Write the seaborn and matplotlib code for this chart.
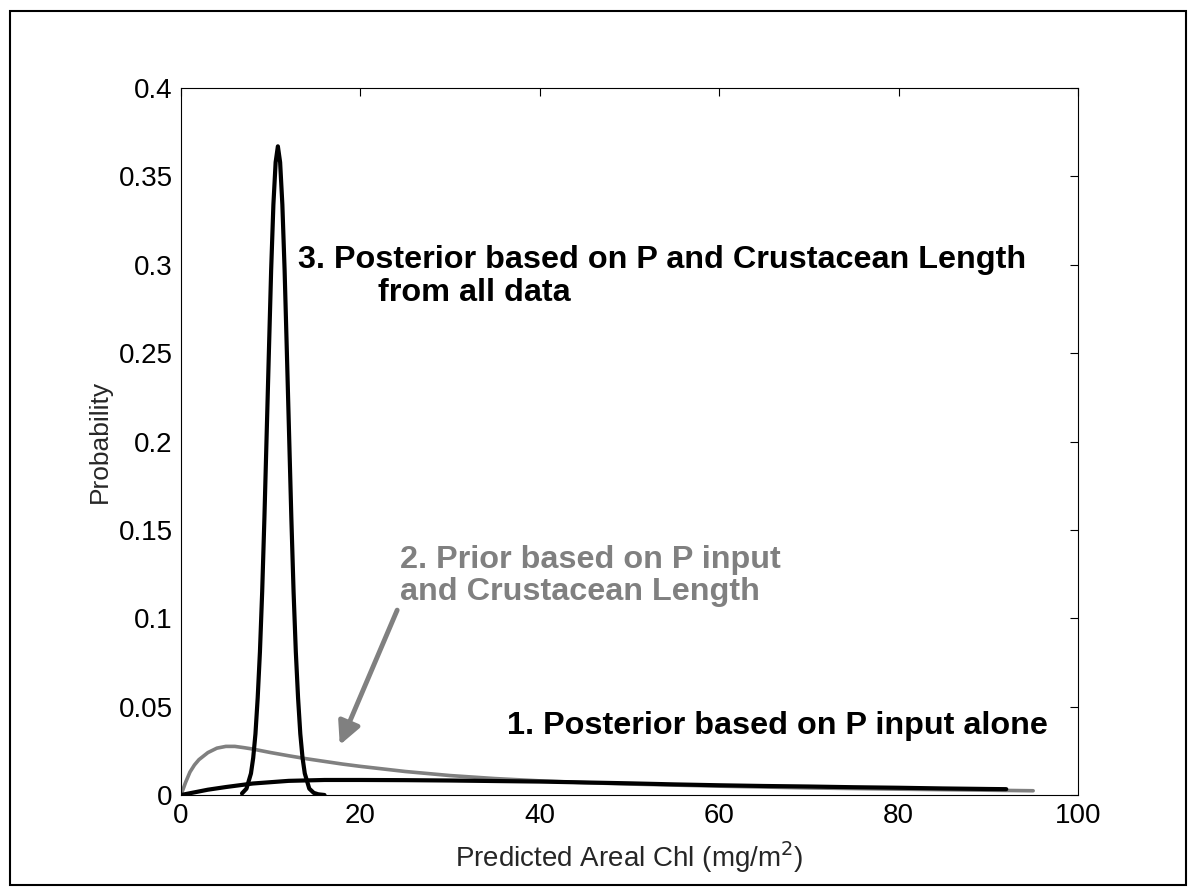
import matplotlib
matplotlib.use("Agg")
import matplotlib.pyplot as plt
import seaborn as sns
import pandas as pd
from matplotlib.patches import Rectangle

# ---- data ----
post_p_x = [0, 1, 2, 3, 5, 8, 12, 16, 20, 25, 30, 35, 40, 45, 50, 55, 60, 65, 70, 75, 80, 85, 90, 92]
post_p_y = [0.0, 0.001, 0.002, 0.003, 0.0045, 0.0065, 0.008, 0.0085, 0.0085, 0.0084, 0.0082, 0.0079,
            0.0076, 0.0071, 0.0066, 0.006, 0.0055, 0.0051, 0.0048, 0.0044, 0.0041, 0.0037, 0.0034, 0.0033]

prior_x = [0, 0.5, 1, 1.5, 2, 3, 4, 5, 6, 7, 8, 10, 12, 14, 16, 18, 20, 25, 30, 35, 40, 45, 50,
           60, 70, 80, 90, 95]
prior_y = [0.0, 0.007, 0.013, 0.017, 0.020, 0.024, 0.0265, 0.0275, 0.0275, 0.0268, 0.026, 0.024,
           0.0222, 0.0205, 0.019, 0.0175, 0.0162, 0.0133, 0.011, 0.0093, 0.008, 0.007, 0.0062,
           0.005, 0.004, 0.0033, 0.0027, 0.0024]

post_all_x = [6.8, 7.3, 7.8, 8.05, 8.3, 8.55, 8.8, 9.05, 9.3, 9.55, 9.8, 10.05, 10.3, 10.55, 10.8,
              11.05, 11.3, 11.55, 11.8, 12.05, 12.3, 12.55, 12.8, 13.05, 13.3, 13.55, 13.8,
              14.3, 14.8, 15.3, 16.0]
post_all_y = [0.0009, 0.0036, 0.0122, 0.021, 0.0346, 0.055, 0.081, 0.115, 0.157, 0.204, 0.251,
              0.297, 0.334, 0.358, 0.367, 0.358, 0.334, 0.297, 0.251, 0.204, 0.157, 0.115,
              0.081, 0.055, 0.0346, 0.021, 0.0122, 0.0036, 0.0012, 0.0004, 0.0]

x_ticks = [0, 20, 40, 60, 80, 100]
y_ticks = [0, 0.05, 0.1, 0.15, 0.2, 0.25, 0.3, 0.35, 0.4]
y_tick_labels = ["0", "0.05", "0.1", "0.15", "0.2", "0.25", "0.3", "0.35", "0.4"]

GRAY = "#808080"

sns.set_theme(style="white")
plt.rcParams["font.family"] = ["Liberation Sans", "DejaVu Sans"]

W, H = 1194, 893
fig = plt.figure(figsize=(W / 100, H / 100), dpi=100)
fig.patch.set_facecolor("white")
ax = fig.add_axes([181 / W, 1 - 795 / H, (1078 - 181) / W, (795 - 88) / H])

df1 = pd.DataFrame({"x": post_p_x, "y": post_p_y})
df2 = pd.DataFrame({"x": prior_x, "y": prior_y})
df3 = pd.DataFrame({"x": post_all_x, "y": post_all_y})

sns.lineplot(data=df2, x="x", y="y", ax=ax, color=GRAY, lw=2.6, sort=False,
             solid_joinstyle="round")
sns.lineplot(data=df1, x="x", y="y", ax=ax, color="black", lw=3.0, sort=False,
             solid_joinstyle="round")
sns.lineplot(data=df3, x="x", y="y", ax=ax, color="black", lw=3.0, sort=False,
             solid_joinstyle="round")

ax.set_xlim(0, 100)
ax.set_ylim(0, 0.4)
ax.set_xticks(x_ticks)
ax.set_xticklabels([str(v) for v in x_ticks])
ax.set_yticks(y_ticks)
ax.set_yticklabels(y_tick_labels)
ax.tick_params(axis="both", which="both", direction="in", length=6, width=0.8,
               top=True, right=True, labelsize=20, pad=6, colors="black")
for s in ax.spines.values():
    s.set_visible(True)
    s.set_color("black")
    s.set_linewidth(0.8)

ax.set_xlabel("Predicted Areal Chl (mg/m$^2$)", fontsize=20, labelpad=7)
ax.set_ylabel("Probability", fontsize=19, labelpad=5)

ax.text(13.0, 0.3026, "3. Posterior based on P and Crustacean Length", fontsize=23.3,
        fontweight="bold", color="black", va="center", ha="left")
ax.text(22.0, 0.284, "from all data", fontsize=23.3, fontweight="bold", color="black",
        va="center", ha="left")
ax.text(24.4, 0.133, "2. Prior based on P input", fontsize=23.3, fontweight="bold",
        color=GRAY, va="center", ha="left")
ax.text(24.4, 0.115, "and Crustacean Length", fontsize=23.3, fontweight="bold",
        color=GRAY, va="center", ha="left")
ax.text(36.3, 0.039, "1. Posterior based on P input alone", fontsize=23.3, fontweight="bold",
        color="black", va="center", ha="left")

ax.annotate("", xy=(17.7, 0.0283), xytext=(24.1, 0.1046),
            arrowprops=dict(arrowstyle="-|>", color=GRAY, lw=3.5, mutation_scale=34,
                            shrinkA=0, shrinkB=0))

fig.patches.append(Rectangle((10 / W, 1 - 885 / H), 1176 / W, 874 / H, transform=fig.transFigure,
                             fill=False, edgecolor="black", lw=1.5))

fig.savefig("out.png", dpi=100, facecolor="white")
